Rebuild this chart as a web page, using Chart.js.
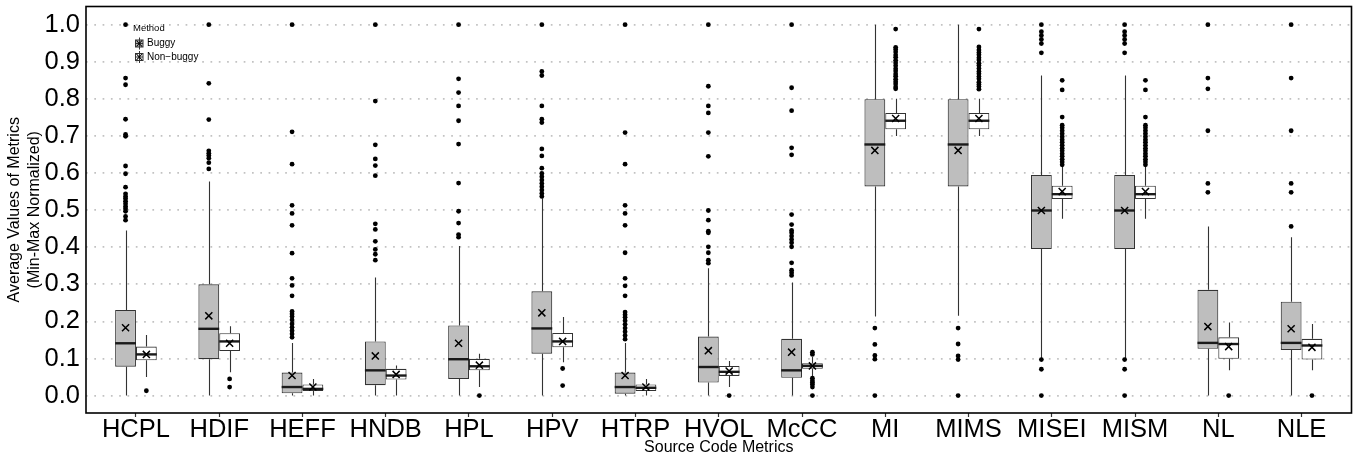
<!DOCTYPE html>
<html>
<head>
<meta charset="utf-8">
<script src="https://cdn.jsdelivr.net/npm/chart.js@4.4.1/dist/chart.umd.min.js"></script>
<style>
html,body{margin:0;padding:0;background:#fff;}
#wrap{width:1358px;height:460px;}
</style>
</head>
<body>
<div id="wrap"><canvas id="c" width="1358" height="460"></canvas></div>
<script>
// ---------- data ----------
const categories = ['HCPL','HDIF','HEFF','HNDB','HPL','HPV','HTRP','HVOL','McCC','MI','MIMS','MISEI','MISM','NL','NLE'];
const yTicks = [0.0,0.1,0.2,0.3,0.4,0.5,0.6,0.7,0.8,0.9,1.0];
const groupNames = ['Buggy','Non\u2212buggy'];

const buggyQ1     = [0.078,0.098,0.006,0.028,0.045,0.113,0.005,0.035,0.048,0.564,0.564,0.395,0.395,0.126,0.123];
const buggyMedian = [0.141,0.180,0.023,0.068,0.098,0.181,0.023,0.077,0.068,0.677,0.677,0.499,0.499,0.142,0.142];
const buggyQ3     = [0.231,0.300,0.062,0.146,0.189,0.281,0.062,0.159,0.153,0.799,0.799,0.595,0.595,0.285,0.253];
const buggyLow    = [0.000,0.000,0.000,0.000,0.000,0.000,0.000,0.000,0.000,0.213,0.215,0.100,0.100,0.000,0.000];
const buggyHigh   = [0.445,0.577,0.142,0.318,0.403,0.532,0.142,0.343,0.305,1.000,1.000,0.863,0.863,0.456,0.427];
const buggyMean   = [0.183,0.215,0.054,0.107,0.141,0.223,0.054,0.121,0.117,0.661,0.661,0.499,0.499,0.186,0.180];
const buggyOutliers = [
  [1.0,0.856,0.838,0.745,0.704,0.699,0.619,0.598,0.562,0.544,0.537,0.531,0.524,0.517,0.510,0.504,0.497,0.483,0.473],
  [1.0,0.842,0.744,0.660,0.653,0.647,0.640,0.628,0.611],
  [1.0,0.711,0.624,0.513,0.491,0.459,0.384,0.316,0.297,0.269,0.227,0.220,0.213,0.204,0.193,0.184,0.175,0.166,0.157],
  [1.0,0.794,0.676,0.638,0.620,0.593,0.463,0.448,0.416,0.394,0.381,0.365],
  [1.0,0.854,0.817,0.781,0.741,0.678,0.573,0.497,0.465,0.434,0.427],
  [1.0,0.874,0.863,0.781,0.745,0.736,0.665,0.646,0.613,0.599,0.590,0.581,0.572,0.563,0.554,0.545,0.537],
  [1.0,0.709,0.624,0.513,0.491,0.459,0.385,0.316,0.296,0.269,0.225,0.218,0.211,0.202,0.192,0.182,0.172,0.162,0.152],
  [1.0,0.834,0.781,0.762,0.709,0.645,0.499,0.473,0.443,0.439,0.401,0.385,0.365,0.357],
  [1.0,0.830,0.768,0.668,0.649,0.488,0.461,0.445,0.439,0.430,0.421,0.412,0.401,0.358,0.338,0.331,0.324],
  [0.182,0.138,0.108,0.098,0.0],
  [0.182,0.139,0.107,0.097,0.0],
  [1.0,0.981,0.971,0.960,0.949,0.924,0.097,0.071,0.0],
  [1.0,0.981,0.971,0.960,0.949,0.924,0.097,0.071,0.0],
  [1.0,0.856,0.827,0.714,0.572,0.548],
  [1.0,0.856,0.714,0.572,0.548,0.456]
];

const nonBuggyQ1     = [0.095,0.120,0.012,0.043,0.068,0.130,0.012,0.053,0.072,0.718,0.718,0.530,0.530,0.099,0.097];
const nonBuggyMedian = [0.111,0.146,0.018,0.054,0.079,0.146,0.021,0.064,0.080,0.741,0.741,0.543,0.543,0.139,0.135];
const nonBuggyQ3     = [0.132,0.168,0.030,0.072,0.099,0.169,0.030,0.080,0.087,0.762,0.762,0.566,0.566,0.157,0.153];
const nonBuggyLow    = [0.050,0.063,0.000,0.000,0.023,0.090,0.000,0.023,0.050,0.700,0.700,0.477,0.477,0.068,0.068];
const nonBuggyHigh   = [0.163,0.187,0.045,0.081,0.113,0.212,0.045,0.093,0.104,0.800,0.800,0.617,0.617,0.197,0.193];
const nonBuggyMean   = [0.111,0.141,0.023,0.057,0.082,0.146,0.023,0.066,0.080,0.747,0.747,0.550,0.550,0.132,0.130];
const nonBuggyOutliers = [
  [0.013],
  [0.045,0.023],
  [],
  [],
  [0.0],
  [0.073,0.027],
  [],
  [0.0],
  [0.117,0.111,0.047,0.040,0.035,0.030,0.023,0.0],
  [0.988,0.939,0.933,0.926,0.918,0.912,0.904,0.897,0.889,0.881,0.875,0.867,0.861,0.853,0.846,0.840,0.832,0.827],
  [0.988,0.940,0.932,0.925,0.919,0.911,0.905,0.896,0.890,0.882,0.874,0.868,0.860,0.854,0.845,0.839,0.833,0.826],
  [0.850,0.824,0.751,0.729,0.722,0.714,0.706,0.698,0.690,0.683,0.675,0.667,0.660,0.652,0.645,0.637,0.630,0.622],
  [0.850,0.824,0.751,0.729,0.722,0.714,0.706,0.698,0.690,0.683,0.675,0.667,0.660,0.652,0.645,0.637,0.630,0.622],
  [0.0],
  [0.0]
];

// ---------- styling constants ----------
const FONT = "'Liberation Sans', Arial, Helvetica, sans-serif";
const DODGE = 0.125;
const BOX_LINE = '#333333';
const FILLS = ['#bebebe', '#ffffff'];

const groups = [
  {q1: buggyQ1, med: buggyMedian, q3: buggyQ3, lo: buggyLow, hi: buggyHigh, mean: buggyMean, out: buggyOutliers, off: -DODGE},
  {q1: nonBuggyQ1, med: nonBuggyMedian, q3: nonBuggyQ3, lo: nonBuggyLow, hi: nonBuggyHigh, mean: nonBuggyMean, out: nonBuggyOutliers, off: DODGE}
];

const datasets = [];
groups.forEach((g, gi) => {
  datasets.push({
    type: 'bar',
    label: groupNames[gi] + ' box',
    data: categories.map((c, i) => ({x: i, y: [g.q1[i], g.q3[i]]})),
    backgroundColor: FILLS[gi],
    borderColor: BOX_LINE,
    borderWidth: 1.1,
    borderSkipped: false,
    categoryPercentage: 0.5,
    barPercentage: 1.0,
    order: 3,
    grouped: true,
    isBox: true,
    groupIndex: gi
  });
});
groups.forEach((g, gi) => {
  const pts = [];
  g.out.forEach((arr, i) => arr.forEach(v => pts.push({x: i + g.off, y: v})));
  datasets.push({
    type: 'scatter',
    label: groupNames[gi] + ' outliers',
    data: pts,
    pointStyle: 'circle',
    pointRadius: 2.4,
    pointBackgroundColor: '#000',
    pointBorderWidth: 0,
    order: 2
  });
});
groups.forEach((g, gi) => {
  datasets.push({
    type: 'scatter',
    label: groupNames[gi] + ' mean',
    data: g.mean.map((v, i) => ({x: i + g.off, y: v})),
    pointStyle: 'crossRot',
    pointRadius: 5,
    pointBorderColor: '#000',
    pointBorderWidth: 1.5,
    order: 1
  });
});

// whiskers below boxes, medians on boxes, panel border and legend
const whiskerPlugin = {
  id: 'whiskers',
  beforeDatasetsDraw(chart) {
    const ctx = chart.ctx, y = chart.scales.y;
    ctx.save();
    ctx.strokeStyle = BOX_LINE;
    ctx.lineWidth = 1.1;
    groups.forEach((g, gi) => {
      const meta = chart.getDatasetMeta(gi);
      meta.data.forEach((bar, i) => {
        const x = Math.round(bar.x) + 0.5;
        ctx.beginPath();
        ctx.moveTo(x, y.getPixelForValue(g.hi[i]));
        ctx.lineTo(x, y.getPixelForValue(g.q3[i]));
        ctx.moveTo(x, y.getPixelForValue(g.q1[i]));
        ctx.lineTo(x, y.getPixelForValue(g.lo[i]));
        ctx.stroke();
      });
    });
    ctx.restore();
  },
  afterDatasetDraw(chart, args) {
    const ds = chart.data.datasets[args.index];
    if (!ds.isBox) return;
    const g = groups[ds.groupIndex];
    const ctx = chart.ctx, y = chart.scales.y;
    ctx.save();
    ctx.strokeStyle = '#1a1a1a';
    ctx.lineWidth = 2.4;
    args.meta.data.forEach((bar, i) => {
      const py = y.getPixelForValue(g.med[i]);
      ctx.beginPath();
      ctx.moveTo(bar.x - bar.width / 2, py);
      ctx.lineTo(bar.x + bar.width / 2, py);
      ctx.stroke();
    });
    ctx.restore();
  },
  afterDraw(chart) {
    const ctx = chart.ctx, a = chart.chartArea;
    ctx.save();
    ctx.strokeStyle = '#000';
    ctx.lineWidth = 1.6;
    ctx.strokeRect(a.left, a.top, a.right - a.left, a.bottom - a.top);
    const lx = 135, ys = [43.5, 57];
    ctx.fillStyle = '#000';
    ctx.font = '9.5px ' + FONT;
    ctx.textBaseline = 'middle';
    ctx.textAlign = 'left';
    ctx.fillText('Method', 133, 28);
    ys.forEach((ky, gi) => {
      ctx.fillStyle = FILLS[gi];
      ctx.strokeStyle = BOX_LINE;
      ctx.lineWidth = 1;
      ctx.fillRect(lx, ky - 3.5, 8, 7);
      ctx.strokeRect(lx + 0.5, ky - 3.5, 7.5, 7);
      ctx.beginPath();
      ctx.moveTo(lx + 4.5, ky - 6); ctx.lineTo(lx + 4.5, ky + 6);
      ctx.moveTo(lx, ky); ctx.lineTo(lx + 8, ky);
      ctx.stroke();
      ctx.strokeStyle = '#000';
      ctx.lineWidth = 1.1;
      ctx.beginPath();
      ctx.moveTo(lx + 1.5, ky - 3); ctx.lineTo(lx + 7, ky + 3);
      ctx.moveTo(lx + 7, ky - 3); ctx.lineTo(lx + 1.5, ky + 3);
      ctx.stroke();
      ctx.fillStyle = '#000';
      ctx.font = '10px ' + FONT;
      ctx.fillText(groupNames[gi], 147, ky);
    });
    ctx.restore();
  }
};

new Chart(document.getElementById('c'), {
  type: 'bar',
  data: {datasets},
  options: {
    responsive: false,
    devicePixelRatio: 1,
    animation: false,
    events: [],
    layout: {padding: {top: 4, right: 5, left: 0, bottom: 0}},
    plugins: {legend: {display: false}, tooltip: {enabled: false}},
    scales: {
      x: {
        type: 'linear',
        min: -0.6,
        max: 14.6,
        offset: false,
        afterBuildTicks: s => { s.ticks = categories.map((c, i) => ({value: i})); },
        afterFit: s => { s.height = 47; s.paddingLeft = 0; s.paddingRight = 0; },
        grid: {display: true, drawOnChartArea: false, drawTicks: true, tickLength: 4, tickColor: '#333', tickWidth: 1.2, offset: false},
        border: {display: false},
        ticks: {
          autoSkip: false,
          maxRotation: 0,
          padding: 0.5,
          color: '#000',
          font: {family: FONT, size: 25.5, lineHeight: 1.0},
          callback: v => categories[Math.round(v)]
        },
        title: {
          display: true,
          text: 'Source Code Metrics',
          color: '#000',
          font: {family: FONT, size: 16, lineHeight: 1.2},
          padding: {top: 0, bottom: 3}
        }
      },
      y: {
        type: 'linear',
        min: -0.047,
        max: 1.049,
        afterBuildTicks: s => { s.ticks = yTicks.map(v => ({value: v})); },
        afterFit: s => { s.width = 86; s.paddingTop = 0; s.paddingBottom = 0; },
        grid: {display: true, drawTicks: false, color: '#c2c2c2', lineWidth: 1.7},
        border: {display: false, dash: [1.7, 6.6]},
        ticks: {
          padding: 6,
          color: '#000',
          font: {family: FONT, size: 25.5},
          callback: v => Number(v).toFixed(1)
        },
        title: {
          display: true,
          text: ['Average Values of Metrics', '(Min-Max Normalized)'],
          color: '#000',
          font: {family: FONT, size: 16, lineHeight: 1.25},
          padding: {top: 5, bottom: 0}
        }
      }
    }
  },
  plugins: [whiskerPlugin]
});
</script>
</body>
</html>
